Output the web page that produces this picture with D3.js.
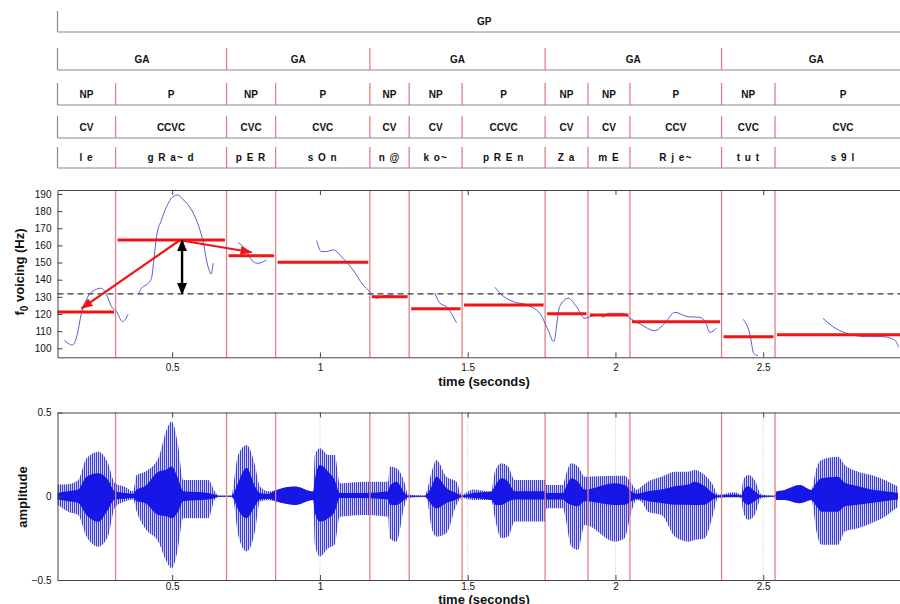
<!DOCTYPE html>
<meta charset="utf-8">
<html lang="en">
  <head>
    <style>
      body { margin: 0; background-color: #fff; }
      svg { font-family: "Liberation Sans", Arial, sans-serif; }
      .tier-line { stroke: #8a8a8a; stroke-width: 1.2px; }
      .bound { stroke: #e57f85; stroke-width: 1.3px; }
      .tier-text { font-size: 10px; font-weight: bold; text-anchor: middle; fill: #111; }
      .phone-text { letter-spacing: 1px; }
      .axis text { font-size: 10px; fill: #111; }
      .axis path, .axis line { stroke: #444; }
      .axis-label { font-size: 13px; font-weight: bold; text-anchor: middle; fill: #111; }
      .f0 { fill: none; stroke: #5a5ad2; stroke-width: 1px; }
      .mean-bar { stroke: #f01414; stroke-width: 3px; }
    </style>
  </head>

  <body>

    <script src="https://cdn.jsdelivr.net/npm/d3@7"></script>

    <svg></svg>

    <script>

      var width = 900, height = 604;

      // segment boundaries (seconds)
      var syllBounds = [0.112, 0.3085, 0.684, 0.850, 1.169, 1.302, 1.481, 1.762, 1.907, 2.049, 2.359, 2.540, 3.0];
      var gaBounds = [0.112, 0.684, 1.169, 1.762, 2.359, 3.0];
      var gpBounds = [0.112, 3.0];

      var gpLabels = ["GP"];
      var gaLabels = ["GA", "GA", "GA", "GA", "GA"];
      var npLabels = ["NP", "P", "NP", "P", "NP", "NP", "P", "NP", "NP", "P", "NP", "P"];
      var cvLabels = ["CV", "CCVC", "CVC", "CVC", "CV", "CV", "CCVC", "CV", "CV", "CCV", "CVC", "CVC"];
      var phoneLabels = ["l e", "g R a~ d", "p E R", "s O n", "n @", "k o~", "p R E n", "Z a", "m E", "R j e~", "t u t", "s 9 l"];

      // mean f0 per syllable (Hz) and overall mean
      var meanF0 = [121.2, 163.2, 154.0, 150.2, 130.1, 123.1, 125.3, 120.2, 119.4, 115.5, 106.8, 107.9];
      var overallMean = 131.7;

      // f0 contour pieces: [time, Hz]
      var f0Segments = [
        [[0.135, 104.8], [0.148, 102.9], [0.163, 101.9], [0.177, 106.8], [0.193, 120.4], [0.212, 129.2],
         [0.238, 134.0], [0.261, 135.0], [0.278, 131.1], [0.295, 124.3], [0.312, 121.4], [0.332, 115.5], [0.351, 119.8]],
        [[0.385, 131.1], [0.396, 135.0], [0.419, 137.9], [0.430, 140.8], [0.438, 151.5], [0.447, 165.1],
         [0.464, 174.9], [0.481, 182.6], [0.503, 188.4], [0.520, 189.4], [0.532, 187.5], [0.554, 183.6],
         [0.577, 176.8], [0.594, 169.0], [0.607, 160.3], [0.616, 151.5], [0.625, 145.7], [0.631, 143.2], [0.639, 149.6]],
        [[0.723, 161.6], [0.746, 158.3], [0.774, 150.5], [0.791, 149.6], [0.819, 151.5]],
        [[0.989, 162.8], [1.005, 156.4], [1.022, 156.4], [1.045, 157.4], [1.078, 152.5], [1.112, 145.7],
         [1.146, 136.9], [1.169, 133.0], [1.191, 129.2], [1.214, 130.5], [1.248, 131.1]],
        [[1.389, 132.1], [1.406, 126.3], [1.428, 124.3], [1.462, 114.9]],
        [[1.592, 135.6], [1.609, 132.1], [1.654, 127.2], [1.699, 125.3], [1.744, 120.4], [1.772, 110.7],
         [1.791, 103.9], [1.811, 124.3], [1.840, 129.2], [1.868, 124.3], [1.896, 117.5], [1.913, 118.4],
         [1.947, 119.4], [1.958, 118.1], [1.975, 120.4], [2.026, 120.4], [2.049, 117.5], [2.083, 114.2],
         [2.133, 110.3], [2.167, 114.6], [2.201, 121.0], [2.246, 118.4], [2.285, 118.1], [2.306, 114.6],
         [2.319, 109.3], [2.342, 111.7]],
        [[2.432, 116.9], [2.454, 108.8], [2.468, 97.1], [2.482, 95.7]],
        [[2.702, 117.5], [2.736, 112.6], [2.781, 108.8], [2.849, 106.8], [2.905, 106.8], [2.945, 104.8], [2.958, 100.9]]
      ];

      // arrows: from the peak of the accented syllable
      var redArrows = [
        {from: [0.526, 163.0], to: [0.1935, 123.3]},
        {from: [0.526, 163.0], to: [0.7686, 156.0]}
      ];
      var blackArrow = {t: 0.5335, hi: 163.0, lo: 131.7};

      // waveform envelope: [time, outer max, outer min, core max, core min]
      var envelope = [
        [0.112, 0.070, -0.050, 0.020, -0.020], [0.148, 0.072, -0.092, 0.030, -0.030],
        [0.182, 0.097, -0.112, 0.040, -0.040], [0.210, 0.227, -0.241, 0.117, -0.112],
        [0.250, 0.266, -0.301, 0.137, -0.152], [0.283, 0.197, -0.241, 0.097, -0.080],
        [0.306, 0.078, -0.068, 0.030, -0.020], [0.340, 0.057, -0.032, 0.020, -0.015],
        [0.368, 0.030, -0.020, 0.015, -0.010], [0.380, 0.127, -0.092, 0.040, -0.030],
        [0.408, 0.147, -0.191, 0.060, -0.040], [0.453, 0.227, -0.271, 0.147, -0.112],
        [0.481, 0.396, -0.390, 0.160, -0.120], [0.498, 0.446, -0.430, 0.177, -0.131],
        [0.520, 0.306, -0.310, 0.107, -0.092], [0.537, 0.097, -0.131, 0.030, -0.030],
        [0.622, 0.097, -0.131, 0.020, -0.020], [0.644, 0.030, -0.020, 0.010, -0.010],
        [0.656, 0.005, -0.005, 0.003, -0.003], [0.701, 0.005, -0.005, 0.003, -0.003],
        [0.706, 0.048, -0.012, 0.010, -0.010], [0.723, 0.246, -0.231, 0.080, -0.080],
        [0.752, 0.306, -0.330, 0.170, -0.130], [0.780, 0.187, -0.211, 0.060, -0.060],
        [0.797, 0.058, -0.032, 0.020, -0.020], [0.825, 0.030, -0.022, 0.015, -0.015],
        [0.853, 0.038, -0.032, 0.038, -0.032], [0.915, 0.058, -0.052, 0.058, -0.052],
        [0.977, 0.028, -0.022, 0.028, -0.022], [0.983, 0.246, -0.290, 0.100, -0.100],
        [1.000, 0.286, -0.360, 0.187, -0.151], [1.028, 0.246, -0.310, 0.147, -0.131],
        [1.050, 0.246, -0.290, 0.097, -0.092], [1.067, 0.078, -0.122, 0.020, -0.010],
        [1.152, 0.087, -0.112, 0.020, -0.010], [1.231, 0.087, -0.122, 0.030, -0.020],
        [1.236, 0.177, -0.250, 0.060, -0.050], [1.259, 0.167, -0.270, 0.087, -0.052],
        [1.287, 0.077, -0.052, 0.020, -0.020], [1.298, 0.010, -0.010, 0.005, -0.005],
        [1.355, 0.005, -0.005, 0.003, -0.003], [1.361, 0.028, -0.012, 0.010, -0.010],
        [1.378, 0.147, -0.191, 0.060, -0.050], [1.394, 0.217, -0.241, 0.117, -0.072],
        [1.428, 0.117, -0.221, 0.050, -0.040], [1.462, 0.087, -0.052, 0.020, -0.020],
        [1.479, 0.010, -0.010, 0.005, -0.005], [1.518, 0.040, -0.022, 0.020, -0.010],
        [1.580, 0.028, -0.022, 0.028, -0.022], [1.592, 0.147, -0.131, 0.060, -0.050],
        [1.614, 0.197, -0.250, 0.107, -0.052], [1.637, 0.177, -0.241, 0.087, -0.032],
        [1.659, 0.097, -0.151, 0.030, -0.020], [1.761, 0.097, -0.151, 0.030, -0.020],
        [1.767, 0.067, -0.072, 0.020, -0.020], [1.823, 0.067, -0.072, 0.020, -0.020],
        [1.829, 0.107, -0.112, 0.040, -0.030], [1.851, 0.197, -0.300, 0.107, -0.052],
        [1.873, 0.177, -0.320, 0.087, -0.060], [1.896, 0.117, -0.171, 0.040, -0.030],
        [1.998, 0.123, -0.270, 0.077, -0.052], [2.031, 0.123, -0.250, 0.067, -0.050],
        [2.054, 0.077, -0.092, 0.030, -0.030], [2.071, 0.038, -0.022, 0.015, -0.015],
        [2.088, 0.058, -0.032, 0.020, -0.020], [2.110, 0.087, -0.092, 0.030, -0.030],
        [2.156, 0.117, -0.112, 0.040, -0.040], [2.201, 0.147, -0.241, 0.060, -0.050],
        [2.246, 0.147, -0.271, 0.070, -0.050], [2.268, 0.157, -0.261, 0.087, -0.052],
        [2.302, 0.127, -0.251, 0.060, -0.050], [2.330, 0.067, -0.112, 0.020, -0.020],
        [2.347, 0.010, -0.010, 0.005, -0.005], [2.404, 0.024, -0.008, 0.010, -0.005],
        [2.426, 0.010, -0.010, 0.005, -0.005], [2.432, 0.097, -0.092, 0.030, -0.030],
        [2.449, 0.127, -0.141, 0.060, -0.050], [2.471, 0.097, -0.112, 0.030, -0.030],
        [2.494, 0.010, -0.010, 0.005, -0.005], [2.539, 0.005, -0.005, 0.003, -0.003],
        [2.545, 0.028, -0.022, 0.028, -0.022], [2.573, 0.038, -0.022, 0.038, -0.022],
        [2.623, 0.067, -0.042, 0.067, -0.042], [2.663, 0.038, -0.022, 0.038, -0.022],
        [2.680, 0.167, -0.211, 0.080, -0.060], [2.697, 0.217, -0.290, 0.107, -0.092],
        [2.753, 0.236, -0.290, 0.117, -0.092], [2.776, 0.187, -0.211, 0.080, -0.060],
        [2.821, 0.147, -0.191, 0.060, -0.050], [2.866, 0.127, -0.161, 0.040, -0.040],
        [2.911, 0.097, -0.122, 0.030, -0.030], [2.956, 0.058, -0.062, 0.020, -0.020]
      ];

      var timeTicks = [0.5, 1, 1.5, 2, 2.5];
      var f0Ticks = [100, 110, 120, 130, 140, 150, 160, 170, 180, 190];
      var ampTicks = [-0.5, 0, 0.5];

      var svg = d3.select("svg")
        .attr("width", width)
        .attr("height", height);

      var x = d3.scaleLinear().domain([0.112, 3.0]).range([57.5, 911]);
      var yF0 = d3.scaleLinear().domain([94.75, 192.3]).range([357.3, 190]);
      var yAmp = d3.scaleLinear().domain([-0.5, 0.5]).range([580, 412.5]);

      var defs = svg.append("defs");

      defs.append("clipPath").attr("id", "clipF0")
        .append("rect").attr("x", 57.5).attr("y", 190).attr("width", 860).attr("height", 167.3);

      defs.append("marker").attr("id", "redHead")
        .attr("markerUnits", "userSpaceOnUse")
        .attr("markerWidth", 12).attr("markerHeight", 9)
        .attr("refX", 11).attr("refY", 4.5)
        .attr("orient", "auto")
        .append("path").attr("d", "M0,0 L12,4.5 L0,9 Z").attr("fill", "#f01414");

      defs.append("marker").attr("id", "blackHead")
        .attr("markerUnits", "userSpaceOnUse")
        .attr("markerWidth", 12).attr("markerHeight", 10)
        .attr("refX", 11).attr("refY", 5)
        .attr("orient", "auto-start-reverse")
        .append("path").attr("d", "M0,0 L12,5 L0,10 Z").attr("fill", "#000");

      var pat = defs.append("pattern").attr("id", "spikes")
        .attr("patternUnits", "userSpaceOnUse")
        .attr("width", 2).attr("height", 10);
      pat.append("rect").attr("width", 2).attr("height", 10).attr("fill", "#cfcfee");
      pat.append("rect").attr("width", 1).attr("height", 10).attr("fill", "#4040d6");

      // ---------- annotation tiers ----------
      var tierRows = [
        {labels: gpLabels, bounds: gpBounds, top: 11, bottom: 32, cls: ""},
        {labels: gaLabels, bounds: gaBounds, top: 48, bottom: 70, cls: ""},
        {labels: npLabels, bounds: syllBounds, top: 83, bottom: 105, cls: ""},
        {labels: cvLabels, bounds: syllBounds, top: 116, bottom: 138, cls: ""},
        {labels: phoneLabels, bounds: syllBounds, top: 147, bottom: 168, cls: " phone-text"}
      ];

      tierRows.forEach(function(row) {
        var g = svg.append("g");
        g.selectAll(".bound")
          .data(row.bounds.slice(1, -1))
          .enter().append("line")
          .attr("class", "bound")
          .attr("x1", function(d) { return x(d); })
          .attr("x2", function(d) { return x(d); })
          .attr("y1", row.top)
          .attr("y2", row.bottom);
        g.append("line").attr("class", "tier-line")
          .attr("x1", x(row.bounds[0])).attr("x2", width)
          .attr("y1", row.bottom).attr("y2", row.bottom);
        g.append("line").attr("class", "tier-line")
          .attr("x1", x(row.bounds[0])).attr("x2", x(row.bounds[0]))
          .attr("y1", row.top).attr("y2", row.bottom);
        g.selectAll(".tier-text")
          .data(row.labels)
          .enter().append("text")
          .attr("class", "tier-text" + row.cls)
          .attr("x", function(d, i) { return (x(row.bounds[i]) + x(row.bounds[i + 1])) / 2; })
          .attr("y", (row.top + row.bottom) / 2 + 3.5)
          .attr("xml:space", "preserve")
          .text(function(d) { return d; });
      });

      // ---------- f0 panel ----------
      var f0g = svg.append("g");

      f0g.selectAll(".bound")
        .data(syllBounds.slice(1, -1))
        .enter().append("line")
        .attr("class", "bound")
        .attr("x1", function(d) { return x(d); })
        .attr("x2", function(d) { return x(d); })
        .attr("y1", yF0.range()[1])
        .attr("y2", yF0.range()[0]);

      f0g.append("line")
        .attr("x1", x.range()[0]).attr("x2", x.range()[1])
        .attr("y1", yF0(overallMean)).attr("y2", yF0(overallMean))
        .attr("stroke", "#333").attr("stroke-width", 1.2)
        .attr("stroke-dasharray", "6,4");

      var f0Line = d3.line()
        .x(function(d) { return x(d[0]); })
        .y(function(d) { return yF0(d[1]); })
        .curve(d3.curveMonotoneX);

      f0g.append("g").attr("clip-path", "url(#clipF0)")
        .selectAll(".f0")
        .data(f0Segments)
        .enter().append("path")
        .attr("class", "f0")
        .attr("d", f0Line);

      f0g.selectAll(".mean-bar")
        .data(meanF0)
        .enter().append("line")
        .attr("class", "mean-bar")
        .attr("x1", function(d, i) { return x(syllBounds[i]) + (i === 0 ? 0 : 2); })
        .attr("x2", function(d, i) { return x(syllBounds[i + 1]) - 1.5; })
        .attr("y1", function(d) { return yF0(d); })
        .attr("y2", function(d) { return yF0(d); });

      f0g.selectAll(".red-arrow")
        .data(redArrows)
        .enter().append("line")
        .attr("class", "red-arrow")
        .attr("x1", function(d) { return x(d.from[0]); })
        .attr("y1", function(d) { return yF0(d.from[1]); })
        .attr("x2", function(d) { return x(d.to[0]); })
        .attr("y2", function(d) { return yF0(d.to[1]); })
        .attr("stroke", "#f01414").attr("stroke-width", 2.2)
        .attr("marker-end", "url(#redHead)");

      f0g.append("line")
        .attr("x1", x(blackArrow.t)).attr("x2", x(blackArrow.t))
        .attr("y1", yF0(blackArrow.hi)).attr("y2", yF0(blackArrow.lo))
        .attr("stroke", "#000").attr("stroke-width", 2.4)
        .attr("marker-start", "url(#blackHead)")
        .attr("marker-end", "url(#blackHead)");

      // axes, MATLAB-like box with inward ticks
      f0g.append("g").attr("class", "axis")
        .attr("transform", "translate(0," + yF0.range()[0] + ")")
        .call(d3.axisBottom(x).tickValues(timeTicks).tickSizeInner(-5).tickSizeOuter(0).tickPadding(7).tickFormat(d3.format("")));
      f0g.append("g").attr("class", "axis")
        .attr("transform", "translate(0," + yF0.range()[1] + ")")
        .call(d3.axisTop(x).tickValues(timeTicks).tickSizeInner(-5).tickSizeOuter(0).tickFormat(""));
      f0g.append("g").attr("class", "axis")
        .attr("transform", "translate(" + x.range()[0] + ",0)")
        .call(d3.axisLeft(yF0).tickValues(f0Ticks).tickSizeInner(-5).tickSizeOuter(0).tickPadding(6));

      var f0Label = f0g.append("text")
        .attr("class", "axis-label")
        .attr("transform", "translate(24,272) rotate(-90)");
      f0Label.append("tspan").text("f");
      f0Label.append("tspan").attr("dy", 4).attr("font-size", "10px").text("0");
      f0Label.append("tspan").attr("dy", -4).text(" voicing (Hz)");

      f0g.append("text")
        .attr("class", "axis-label")
        .attr("x", 484).attr("y", 386)
        .text("time (seconds)");

      // ---------- waveform panel ----------
      var wg = svg.append("g");

      wg.selectAll(".grid")
        .data(timeTicks)
        .enter().append("line")
        .attr("x1", function(d) { return x(d); })
        .attr("x2", function(d) { return x(d); })
        .attr("y1", yAmp.range()[1]).attr("y2", yAmp.range()[0])
        .attr("stroke", "#b0b0b0").attr("stroke-width", 0.8)
        .attr("stroke-dasharray", "1,2");

      var outerArea = d3.area()
        .x(function(d) { return x(d[0]); })
        .y0(function(d) { return yAmp(d[2]); })
        .y1(function(d) { return yAmp(d[1]); })
        .curve(d3.curveMonotoneX);

      var coreArea = d3.area()
        .x(function(d) { return x(d[0]); })
        .y0(function(d) { return yAmp(d[4]); })
        .y1(function(d) { return yAmp(d[3]); })
        .curve(d3.curveMonotoneX);

      wg.append("path").datum(envelope)
        .attr("d", outerArea)
        .attr("fill", "url(#spikes)");

      wg.append("path").datum(envelope)
        .attr("d", coreArea)
        .attr("fill", "#1616e6");

      wg.selectAll(".bound")
        .data(syllBounds.slice(1, -1))
        .enter().append("line")
        .attr("class", "bound")
        .attr("x1", function(d) { return x(d); })
        .attr("x2", function(d) { return x(d); })
        .attr("y1", yAmp.range()[1])
        .attr("y2", yAmp.range()[0]);

      wg.append("g").attr("class", "axis")
        .attr("transform", "translate(0," + yAmp.range()[0] + ")")
        .call(d3.axisBottom(x).tickValues(timeTicks).tickSizeInner(-5).tickSizeOuter(0).tickPadding(3).tickFormat(d3.format("")));
      wg.append("g").attr("class", "axis")
        .attr("transform", "translate(0," + yAmp.range()[1] + ")")
        .call(d3.axisTop(x).tickValues(timeTicks).tickSizeInner(-5).tickSizeOuter(0).tickFormat(""));
      wg.append("g").attr("class", "axis")
        .attr("transform", "translate(" + x.range()[0] + ",0)")
        .call(d3.axisLeft(yAmp).tickValues(ampTicks).tickSizeInner(-5).tickSizeOuter(0).tickPadding(6).tickFormat(d3.format("")));

      wg.append("text")
        .attr("class", "axis-label")
        .attr("transform", "translate(27,497) rotate(-90)")
        .text("amplitude");

      wg.append("text")
        .attr("class", "axis-label")
        .attr("x", 484).attr("y", 604)
        .text("time (seconds)");

    </script>

  </body>
</html>
